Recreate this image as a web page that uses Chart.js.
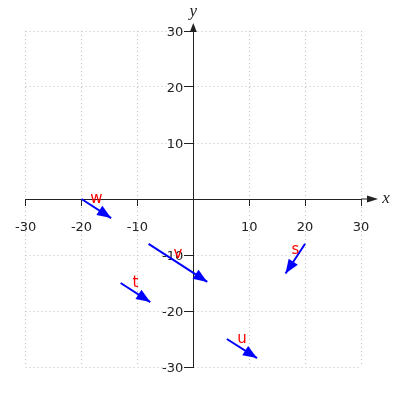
<!DOCTYPE html>
<html>
<head>
<meta charset="utf-8">
<script src="https://cdn.jsdelivr.net/npm/chart.js@4/dist/chart.umd.min.js"></script>
<style>
  html, body { margin: 0; padding: 0; background: #ffffff; }
  #wrap { width: 400px; height: 400px; }
</style>
</head>
<body>
<div id="wrap"><canvas id="vectorChart" width="400" height="400"></canvas></div>
<script>
// vector names and their start / end points (axis units)
const vectorNames = ['w', 'v', 's', 't', 'u'];
const startX = [-20, -8, 20, -13, 6];
const startY = [0, -8, -8, -15, -25];
const endX = [-14.7, 2.5, 16.5, -7.7, 11.4];
const endY = [-3.4, -14.8, -13.3, -18.4, -28.4];

// axis ticks
const axisMin = -30;
const axisMax = 30;
const tickStep = 10;

const vectorColor = '#0000ff';
const labelColor = '#ff0000';
const axisColor = '#222222';

document.addEventListener('DOMContentLoaded', function() {
    const datasets = vectorNames.map(function(name, i) {
        return {
            label: name,
            data: [{ x: startX[i], y: startY[i] }, { x: endX[i], y: endY[i] }],
            showLine: true,
            borderColor: vectorColor,
            backgroundColor: vectorColor,
            borderWidth: 2,
            pointRadius: 0,
            fill: false
        };
    });

    // arrowheads and names on the vectors
    const vectorDecor = {
        id: 'vectorDecor',
        afterDatasetsDraw: function(chart) {
            const ctx = chart.ctx;
            chart.data.datasets.forEach(function(ds, i) {
                const meta = chart.getDatasetMeta(i);
                const p0 = meta.data[0];
                const p1 = meta.data[1];
                const ang = Math.atan2(p1.y - p0.y, p1.x - p0.x);
                const len = 14, hw = 5.5;
                ctx.save();
                ctx.fillStyle = vectorColor;
                ctx.beginPath();
                ctx.moveTo(p1.x, p1.y);
                ctx.lineTo(p1.x - len * Math.cos(ang) - hw * Math.sin(ang), p1.y - len * Math.sin(ang) + hw * Math.cos(ang));
                ctx.lineTo(p1.x - len * Math.cos(ang) + hw * Math.sin(ang), p1.y - len * Math.sin(ang) - hw * Math.cos(ang));
                ctx.closePath();
                ctx.fill();
                ctx.fillStyle = labelColor;
                ctx.font = '15px "DejaVu Sans"';
                ctx.textAlign = 'center';
                ctx.textBaseline = 'middle';
                ctx.fillText(ds.label, (p0.x + p1.x) / 2, (p0.y + p1.y) / 2 - 9);
                ctx.restore();
            });
        },
        afterDraw: function(chart) {
            const ctx = chart.ctx;
            const xs = chart.scales.x, ys = chart.scales.y;
            const ox = xs.getPixelForValue(0), oy = ys.getPixelForValue(0);
            const right = chart.chartArea.right, top = chart.chartArea.top;
            ctx.save();
            ctx.strokeStyle = axisColor;
            ctx.fillStyle = axisColor;
            ctx.lineWidth = 1;
            ctx.beginPath();
            ctx.moveTo(right, oy);
            ctx.lineTo(right + 8, oy);
            ctx.stroke();
            ctx.beginPath();
            ctx.moveTo(right + 17, oy);
            ctx.lineTo(right + 6, oy - 3.5);
            ctx.lineTo(right + 6, oy + 3.5);
            ctx.closePath();
            ctx.fill();
            ctx.beginPath();
            ctx.moveTo(ox, top - 8);
            ctx.lineTo(ox - 3.5, top + 1);
            ctx.lineTo(ox + 3.5, top + 1);
            ctx.closePath();
            ctx.fill();
            ctx.font = 'italic 17px "Liberation Serif"';
            ctx.textAlign = 'center';
            ctx.textBaseline = 'middle';
            ctx.fillText('x', right + 25, oy);
            ctx.fillText('y', ox, top - 19);
            ctx.restore();
        }
    };

    function axisOptions(tickLen, pad, offset) {
        return {
            type: 'linear',
            min: axisMin,
            max: axisMax,
            position: 'center',
            ticks: {
                stepSize: tickStep,
                color: '#222222',
                font: { family: 'DejaVu Sans', size: 13 },
                padding: pad,
                labelOffset: offset,
                callback: function(value) { return value === 0 ? '' : value; }
            },
            grid: {
                color: '#c0c0c0',
                lineWidth: 1,
                tickColor: axisColor,
                tickLength: tickLen
            },
            border: {
                color: axisColor,
                width: 1,
                dash: [1, 3]
            }
        };
    }

    new Chart(document.getElementById('vectorChart').getContext('2d'), {
        type: 'scatter',
        data: { datasets: datasets },
        options: {
            responsive: false,
            animation: false,
            layout: { padding: { left: 25, right: 39, top: 31, bottom: 33 } },
            plugins: {
                legend: { display: false },
                tooltip: { enabled: false }
            },
            scales: {
                x: axisOptions(6, 15, 0),
                y: axisOptions(9, 1, 1.5)
            }
        },
        plugins: [vectorDecor]
    });
});
</script>
</body>
</html>
